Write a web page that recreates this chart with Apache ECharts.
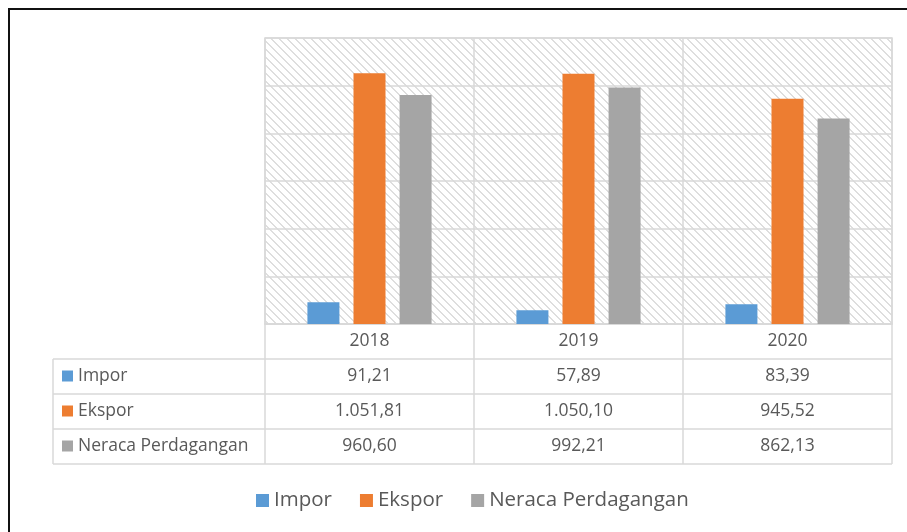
<!DOCTYPE html>
<html>
<head>
<meta charset="utf-8">
<script src="https://cdn.jsdelivr.net/npm/echarts@6/dist/echarts.min.js"></script>
<style>
  html, body { margin: 0; padding: 0; background: #fff; }
  #chart { width: 907px; height: 532px; }
</style>
</head>
<body>
<div id="chart"></div>
<script>
var years = ["2018", "2019", "2020"];
var impor = [91.21, 57.89, 83.39];
var ekspor = [1051.81, 1050.1, 945.52];
var neraca = [960.6, 992.21, 862.13];
var seriesNames = ["Impor", "Ekspor", "Neraca Perdagangan"];
var colors = ["#5B9BD5", "#ED7D31", "#A5A5A5"];

var FONT = "Open Sans";
var TXT = "#595959";
var LINE = "#d9d9d9";

// grid box (px)
var gLeft = 265, gRight = 892, gTop = 38, gBottom = 324;
var rowH = 35;
var tableLeft = 53;

// angka format Indonesia: 1.051,81
function fmt(v) {
  var parts = v.toFixed(2).split(".");
  var intPart = parts[0].replace(/\B(?=(\d{3})+(?!\d))/g, ".");
  return intPart + "," + parts[1];
}

// pola garis diagonal
var pat = document.createElement("canvas");
pat.width = 8;
pat.height = 8;
var pctx = pat.getContext("2d");
pctx.fillStyle = "#ffffff";
pctx.fillRect(0, 0, 8, 8);
pctx.fillStyle = "#dedede";
for (var i = 0; i < 8; i++) {
  pctx.fillRect(i, i, 1, 1);
  pctx.fillRect((i + 1) % 8, i, 1, 1);
}

var myChart = echarts.init(document.getElementById("chart"));

var rowData = [impor, ekspor, neraca];

var xAxes = [
  {
    type: "category",
    data: years,
    position: "bottom",
    axisLine: { show: true, lineStyle: { color: LINE, width: 1.5 } },
    axisTick: { show: false },
    splitLine: { show: true, lineStyle: { color: LINE, width: 1.5 } },
    axisLabel: { color: TXT, fontFamily: FONT, fontSize: 17.5, margin: 8 },
  },
];
rowData.forEach(function (arr, k) {
  xAxes.push({
    type: "category",
    data: years,
    position: "bottom",
    offset: rowH * (k + 1),
    axisLine: { show: false },
    axisTick: { show: false },
    splitLine: { show: false },
    axisLabel: {
      color: TXT,
      fontFamily: FONT,
      fontSize: 17.5,
      margin: 8,
      formatter: function (val, idx) {
        return fmt(arr[idx]);
      },
    },
  });
});

// garis tabel + label baris
var graphics = [];
// bingkai luar
graphics.push({
  type: "rect",
  shape: { x: 9, y: 9, width: 1000, height: 1000 },
  style: { fill: null, stroke: "#111", lineWidth: 2 },
  silent: true,
});
for (var r = 1; r <= 4; r++) {
  var y = gBottom + rowH * r;
  graphics.push({
    type: "line",
    shape: { x1: tableLeft, y1: y, x2: gRight, y2: y },
    style: { stroke: LINE, lineWidth: 1.5 },
    silent: true,
  });
}
var colW = (gRight - gLeft) / years.length;
for (var c = 0; c <= years.length; c++) {
  var x = gLeft + colW * c;
  graphics.push({
    type: "line",
    shape: { x1: x, y1: gBottom, x2: x, y2: gBottom + rowH * 4 },
    style: { stroke: LINE, lineWidth: 1.5 },
    silent: true,
  });
}
graphics.push({
  type: "line",
  shape: { x1: tableLeft, y1: gBottom + rowH, x2: tableLeft, y2: gBottom + rowH * 4 },
  style: { stroke: LINE, lineWidth: 1.5 },
  silent: true,
});
seriesNames.forEach(function (name, k) {
  var cy = gBottom + rowH * (k + 1) + rowH / 2;
  graphics.push({
    type: "rect",
    shape: { x: 62, y: cy - 6, width: 11, height: 11 },
    style: { fill: colors[k] },
    silent: true,
  });
  graphics.push({
    type: "text",
    x: 78,
    y: cy,
    style: {
      text: name,
      fill: TXT,
      font: "17.5px '" + FONT + "'",
      verticalAlign: "middle",
      align: "left",
    },
    silent: true,
  });
});

var option = {
  backgroundColor: "#ffffff",
  animation: false,
  color: colors,
  grid: {
    left: gLeft,
    right: 907 - gRight,
    top: gTop,
    bottom: 532 - gBottom,
    show: true,
    borderColor: LINE,
    borderWidth: 1.5,
    backgroundColor: { image: pat, repeat: "repeat" },
  },
  legend: {
    left: 251,
    top: 485,
    icon: "rect",
    itemWidth: 13,
    itemHeight: 13,
    itemGap: 28,
    textStyle: { color: TXT, fontFamily: FONT, fontSize: 20.5 },
    data: seriesNames,
  },
  xAxis: xAxes,
  yAxis: {
    type: "value",
    min: 0,
    max: 1200,
    interval: 200,
    axisLine: { show: false },
    axisTick: { show: false },
    axisLabel: { show: false },
    splitLine: { show: true, lineStyle: { color: LINE, width: 1.5 } },
  },
  series: [
    { name: seriesNames[0], type: "bar", barWidth: 32, barGap: "44%", data: impor },
    { name: seriesNames[1], type: "bar", barWidth: 32, barGap: "44%", data: ekspor },
    { name: seriesNames[2], type: "bar", barWidth: 32, barGap: "44%", data: neraca },
  ],
  graphic: graphics,
};
myChart.setOption(option);
</script>
</body>
</html>
